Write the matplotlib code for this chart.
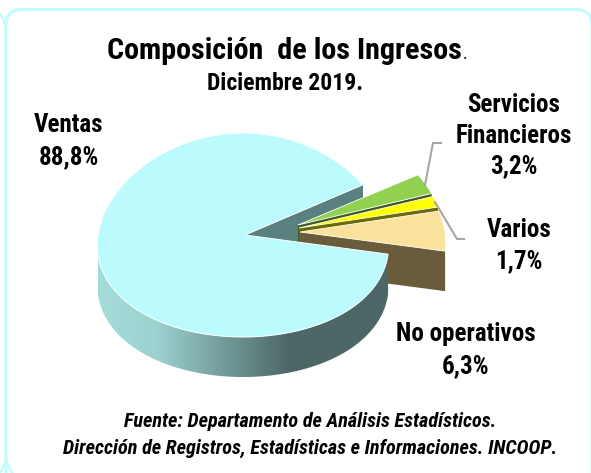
#pie chart of the income composition, drawn by hand because of the exploded 3d look
import numpy as np
import matplotlib
matplotlib.use("Agg")
import matplotlib.pyplot as plt
from matplotlib.patches import Polygon, FancyBboxPatch

labels = ["Ventas", "Servicios\nFinancieros", "Varios", "No operativos"]
shares = [88.8, 3.2, 1.7, 6.3]
values_txt = ["88,8%", "3,2%", "1,7%", "6,3%"]

plt.rcParams['font.family'] = ['Roboto Condensed', 'Liberation Sans', 'DejaVu Sans']

W, H = 591, 473
fig = plt.figure(figsize=(W / 100, H / 100), dpi=100)
ax = fig.add_axes([0, 0, 1, 1])
ax.set_xlim(0, W)
ax.set_ylim(H, 0)
ax.axis("off")

rx, ry, depth = 145, 102, 40
narrowing = 0.1
start = 29.5
apex = (245, 235)
center = (243, 235)
centers = {1: (298, 225), 2: (299, 228), 3: (300, 232)}
tops = [None, "#92D050", "#FFFF00", "#FBE29C"]
walls = [None, "#3F5A24", "#6B6B00", "#6A5C3A"]
cyan = "#BFFCFD"


def arc(c, a0, a1):
    #the back of the pie is a bit narrower than the front (perspective)
    t = np.radians(np.linspace(a0, a1, 200))
    return np.column_stack([c[0] + rx * np.cos(t) * (1 - narrowing * np.sin(t)),
                            c[1] - ry * np.sin(t)])


#work out the angles of each slice from the shares, going clockwise
spans = [s / sum(shares) * 360 for s in shares]
a_main0 = start
a_main1 = start + spans[0]
ends = [start]
for s in spans[1:]:
    ends.append(ends[-1] - s)

#frame
ax.add_patch(FancyBboxPatch((6, 9.5), 586, 520, boxstyle="round,pad=0,rounding_size=16",
                            fc="white", ec=cyan, lw=2.2))
ax.plot([0, 3, 6], [14, 19, 28], color=cyan, lw=1.6)
ax.plot([0, 3, 6, 9, 12], [473, 467, 460, 467, 473], color=cyan, lw=1.6)

#back wall of the main pie
p0 = arc(center, a_main0, a_main0)[0]
ax.add_patch(Polygon([apex, p0, p0 + [0, depth], np.array(apex) + [0, depth]],
                     fc="#5A8080", ec="none", zorder=2))

#exploded slices
z = 3
for i in [1, 2, 3]:
    c = centers[i]
    a0, a1 = ends[i - 1], ends[i]
    edge = arc(c, a0, a1)
    low = arc(c, a1, a1)[0]
    ax.add_patch(Polygon([c, low, low + [0, depth], np.array(c) + [0, depth]],
                         fc=walls[i], ec="none", zorder=z))
    ax.add_patch(Polygon(np.vstack([[c], edge]), fc=tops[i], ec="white", lw=0.6, zorder=z + 1))
    z += 2

#front side of main pie with shading
rim = arc(center, 190, a_main1)
side = np.vstack([rim, (rim + [0, depth])[::-1]])
patch = Polygon(side, fc="none", ec="none", zorder=10)
ax.add_patch(patch)
shade = np.array([0.0, 0.2, 0.65, 1.0])
r = np.interp(np.linspace(0, 1, 300), shade, [0xA6, 0x9C, 0x4D, 0x4D])
g = np.interp(np.linspace(0, 1, 300), shade, [0xDC, 0xD2, 0x68, 0x66])
b = np.interp(np.linspace(0, 1, 300), shade, [0xDA, 0xD0, 0x68, 0x66])
grad = np.dstack([r, g, b]).astype(np.uint8)
im = ax.imshow(grad, extent=(98, 390, H, 0), aspect="auto", zorder=10)
im.set_clip_path(patch)
ax.set_xlim(0, W)
ax.set_ylim(H, 0)

#top of main pie
top = arc(center, a_main0, a_main1)
ax.add_patch(Polygon(np.vstack([[apex], top]), fc="#BBFBFD", ec="white", lw=0.7, zorder=11))

#leader lines
ax.plot([425, 433, 441], [185, 143, 143], color="#A6A6A6", lw=1.5, zorder=12)
ax.plot([435, 457, 464], [202, 239, 239], color="#A6A6A6", lw=1.5, zorder=12)

#texts
kw = dict(ha="center", va="center", color="black", fontweight="bold", zorder=20)
ax.text(284, 59, "Composición  de los Ingresos", fontsize=21.7, ha="center", va="baseline",
        fontweight="bold", zorder=20)
ax.text(463, 59, ".", fontsize=13, ha="left", va="baseline", zorder=20)
ax.text(285, 84, "Diciembre 2019.", fontsize=17, **kw)
ax.text(69, 141, labels[0] + "\n" + values_txt[0], fontsize=18, linespacing=1.42, **kw)
ax.text(514, 136, labels[1] + "\n" + values_txt[1], fontsize=18, linespacing=1.35, **kw)
ax.text(519, 245.5, labels[2] + "\n" + values_txt[2], fontsize=18, linespacing=1.4, **kw)
ax.text(466, 350, labels[3] + "\n" + values_txt[3], fontsize=18, linespacing=1.42, **kw)
ax.text(310, 435, "Fuente: Departamento de Análisis Estadísticos.\nDirección de Registros, Estadísticas e Informaciones. INCOOP.",
        ha="center", va="center", fontsize=14.6, fontweight="bold", fontstyle="italic",
        linespacing=1.5, zorder=20)

fig.savefig("out.png", dpi=100)
